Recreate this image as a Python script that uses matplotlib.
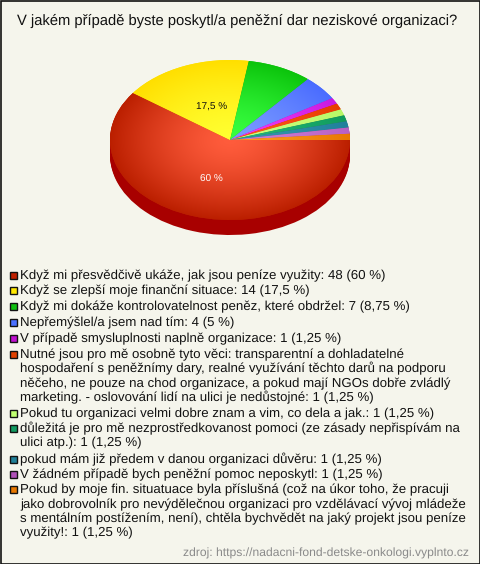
import numpy as np
import matplotlib
matplotlib.use('Agg')
import matplotlib.pyplot as plt
from matplotlib.colors import LinearSegmentedColormap
from matplotlib.patches import Rectangle

plt.rcParams['font.family'] = ['Liberation Sans', 'DejaVu Sans']
plt.rcParams['text.hinting'] = 'no_hinting'

W, H = 480, 564

title = 'V jakém případě byste poskytl/a peněžní dar neziskové organizaci?'
source = 'zdroj: https://nadacni-fond-detske-onkologi.vyplnto.cz'

counts = [48, 14, 7, 4, 1, 1, 1, 1, 1, 1, 1]
percent_labels = ['60 %', '17,5 %']

# centre and rim colour of every slice
inner_colors = ['#ff5c3c', '#ffff30', '#38ff40', '#7a9aff', '#ee3cf6', '#ff5a1a',
                '#ccff80', '#22b878', '#3498ac', '#cc80d4', '#ff9a20']
outer_colors = ['#bb1f00', '#ffdf00', '#0cc40c', '#4a6cff', '#c81ae0', '#e63c00',
                '#b8f868', '#109a5c', '#20809c', '#b860c4', '#e87800']
box_colors = ['#c02000', '#ffe800', '#10c010', '#4a70ff', '#c010d0', '#e04000',
              '#c0ff70', '#109a60', '#208098', '#b050b8', '#e87800']

legend_labels = [
    ['Když mi přesvědčivě ukáže, jak jsou peníze využity: 48 (60 %)'],
    ['Když se zlepší moje finanční situace: 14 (17,5 %)'],
    ['Když mi dokáže kontrolovatelnost peněz, které obdržel: 7 (8,75 %)'],
    ['Nepřemýšlel/a jsem nad tím: 4 (5 %)'],
    ['V případě smysluplnosti naplně organizace: 1 (1,25 %)'],
    ['Nutné jsou pro mě osobně tyto věci: transparentní a dohladatelné',
     'hospodaření s peněžnímy dary, realné využívání těchto darů na podporu',
     'něčeho, ne pouze na chod organizace, a pokud mají NGOs dobře zvládlý',
     'marketing. - oslovování lidí na ulici je nedůstojné: 1 (1,25 %)'],
    ['Pokud tu organizaci velmi dobre znam a vim, co dela a jak.: 1 (1,25 %)'],
    ['důležitá je pro mě nezprostředkovanost pomoci (ze zásady nepřispívám na',
     'ulici atp.): 1 (1,25 %)'],
    ['pokud mám již předem v danou organizaci důvěru: 1 (1,25 %)'],
    ['V žádném případě bych peněžní pomoc neposkytl: 1 (1,25 %)'],
    ['Pokud by moje fin. situatuace byla příslušná (což na úkor toho, že pracuji',
     'jako dobrovolník pro nevýdělečnou organizaci pro vzdělávací vývoj mládeže',
     's mentálním postížením, není), chtěla bychvědět na jaký projekt jsou peníze',
     'využity!: 1 (1,25 %)'],
]
legend_baselines = [279, 294, 310.5, 326, 342, 358, 417, 432, 463, 478, 493.5]

fig = plt.figure(figsize=(W / 100, H / 100), dpi=100, facecolor='#f5f5ec')

# whole figure in pixel coordinates, for the frame and the legend
bg = fig.add_axes([0, 0, 1, 1])
bg.set_xlim(0, W)
bg.set_ylim(H, 0)
bg.axis('off')
bg.add_patch(Rectangle((0.5, 0.5), W - 1, H - 1, fill=False, ec='#111111', lw=1.2))
bg.text(17, 25, title, fontsize=10.65, color='#111111', ha='left', va='baseline')

for labels, base, box in zip(legend_labels, legend_baselines, box_colors):
    bg.add_patch(Rectangle((9.5, base - 7.5), 7, 7, fc=box, ec='#111111', lw=1))
    for i, line in enumerate(labels):
        bg.text(20, base + i * 14.4, line, fontsize=9.55, color='#111111', va='baseline')
bg.text(469, 557, source, fontsize=8.7, color='#8a8a8a', ha='right', va='baseline')

# pie, squashed: the axes span the ellipse
cx, cy, rx, ry, depth = 230, 140, 120, 80, 15
pie = fig.add_axes([(cx - rx) / W, 1 - (cy + ry) / H, 2 * rx / W, 2 * ry / H])
pie.patch.set_alpha(0)

# side of the pie, stacked from the bottom up
for d in range(depth, 0, -1):
    side, _ = pie.pie(counts, startangle=0, counterclock=False, radius=1,
                      center=(0, -d / ry), colors=['#a80000'] * len(counts))
    for w in side:
        w.set_clip_on(False)

wedges, _ = pie.pie(counts, startangle=0, counterclock=False, radius=1, colors=outer_colors)
pie.set_aspect('auto')
pie.set_xlim(-1, 1)
pie.set_ylim(-1, 1)
pie.axis('off')

# radial shading inside each slice, stays light a bit longer near the centre
yy, xx = np.mgrid[-1:1:320j, -1:1:480j]
rr = np.sqrt(xx ** 2 + yy ** 2) ** 1.4
for w, c0, c1 in zip(wedges, inner_colors, outer_colors):
    w.set_clip_on(False)
    cmap = LinearSegmentedColormap.from_list('shade', [c0, c1])
    im = pie.imshow(rr, extent=(-1, 1, -1, 1), origin='lower', cmap=cmap, vmin=0, vmax=1,
                    aspect='auto', zorder=2)
    im.set_clip_path(w)
pie.set_xlim(-1, 1)
pie.set_ylim(-1, 1)

bg.text(211, 182, percent_labels[0], fontsize=7.2, color='white', ha='center', va='baseline', zorder=5)
bg.text(212, 110, percent_labels[1], fontsize=7.2, color='#111111', ha='center', va='baseline', zorder=5)
bg.set_zorder(3)
bg.patch.set_alpha(0)

fig.savefig('out.png', dpi=100, facecolor=fig.get_facecolor())
